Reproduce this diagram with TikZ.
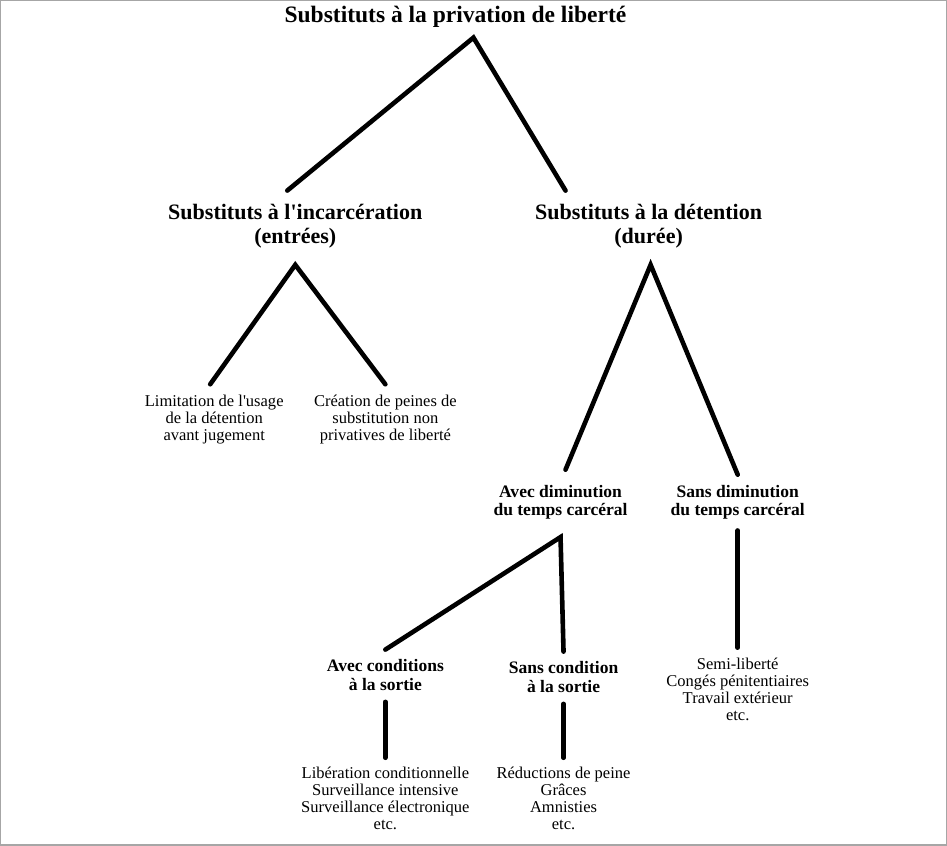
\documentclass[tikz,border=0pt]{standalone}
\usepackage{fontspec}
\setmainfont{Liberation Serif}[Ligatures=TeXOff]
\begin{document}
\begin{tikzpicture}[x=1pt, y=-1pt]
  \tikzstyle{head} = [font=\fontsize{23.5}{26}\selectfont\bfseries, align=center, inner sep=0pt]
  \tikzstyle{mid} = [font=\fontsize{22}{24}\selectfont\bfseries, align=center, inner sep=0pt]
  \tikzstyle{sub} = [font=\fontsize{17.5}{18.5}\selectfont\bfseries, align=center, inner sep=0pt]
  \tikzstyle{leaf} = [font=\fontsize{16.5}{17}\selectfont, align=center, inner sep=0pt]
  \tikzstyle{branch} = [line width=4.6pt, line cap=round, line join=miter]

  % frame
  \draw[gray!70, line width=1.2pt] (0.6,1) rectangle (945.5,844.5);

  % Levels
  \node (title) [head] at (455,17) {Substituts à la privation de liberté};
  \node (incarc) [mid] at (295,226) {Substituts à l'incarcération\\(entrées)};
  \node (detent) [mid] at (648,226) {Substituts à la détention\\(durée)};

  \node (limit) [leaf] at (214,420) {Limitation de l'usage\\de la détention\\avant jugement};
  \node (creation) [leaf] at (385,420) {Création de peines de\\substitution non\\privatives de liberté};

  \node (avecdim) [sub] at (560,502) {Avec diminution\\du temps carcéral};
  \node (sansdim) [sub] at (737,502) {Sans diminution\\du temps carcéral};

  \node (aveccond) [sub] at (385,675) {Avec conditions\\à la sortie};
  \node (sanscond) [sub] at (563,677) {Sans condition\\à la sortie};
  \node (semi) [leaf] at (737,689) {Semi-liberté\\Congés pénitentiaires\\Travail extérieur\\etc.};

  \node (liberation) [leaf] at (385,798) {Libération conditionnelle\\Surveillance intensive\\Surveillance électronique\\etc.};
  \node (reduction) [leaf] at (563,798) {Réductions de peine\\Grâces\\Amnisties\\etc.};

  % Branches
  \coordinate (top) at (473,38);
  \coordinate (left) at (295,265);
  \coordinate (right) at (650,265);
  \coordinate (dim) at (560,537);
  \draw[branch] ([xshift=-8pt, yshift=13pt]incarc.north) -- (top) -- ([xshift=-83pt, yshift=13pt]detent.north);
  \draw[branch] ([xshift=-4pt, yshift=11pt]limit.north) -- (left) -- ([yshift=11pt]creation.north);
  \draw[branch] ([xshift=5pt, yshift=15pt]avecdim.north) -- (right) -- ([yshift=10pt]sansdim.north);
  \draw[branch] ([yshift=10pt]aveccond.north) -- (dim) -- ([yshift=10pt]sanscond.north);
  \draw[branch] ([yshift=-11pt]sansdim.south) -- ([yshift=10pt]semi.north);
  \draw[branch] ([yshift=-11pt]aveccond.south) -- ([yshift=9pt]liberation.north);
  \draw[branch] ([yshift=-11pt]sanscond.south) -- ([yshift=9pt]reduction.north);
\end{tikzpicture}
\end{document}
